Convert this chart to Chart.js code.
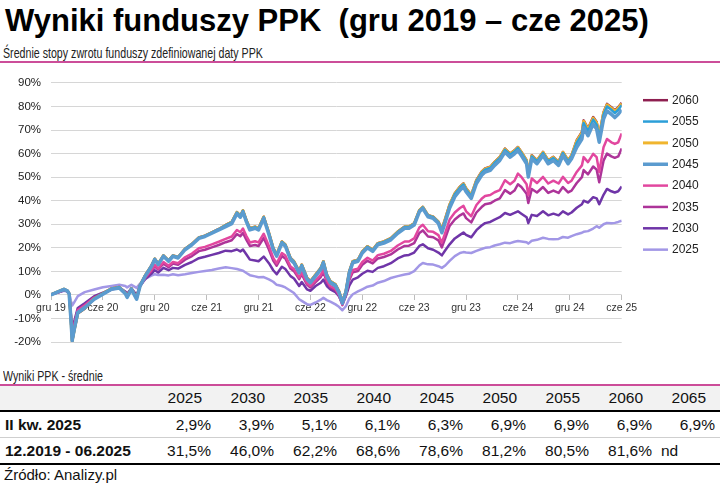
<!DOCTYPE html>
<html lang="pl">
<head>
<meta charset="utf-8">
<title>Wyniki funduszy PPK</title>
<script src="https://cdn.jsdelivr.net/npm/chart.js@4.4.1/dist/chart.umd.min.js"></script>
<style>
  body { margin: 0; width: 720px; height: 485px; background: #fff; position: relative; overflow: hidden;
         font-family: "Liberation Sans", Arial, sans-serif; color: #111; }
  .abs { position: absolute; white-space: pre; }
  #title { left: 5px; top: 5px; font-size: 31px; line-height: 31px; font-weight: bold; color: #000; }
  .narrow { font-size: 15px; line-height: 15px; transform: scaleX(0.71); transform-origin: 0 0; color: #222; }
  .rule { position: absolute; left: 0; width: 720px; }
  #chartBox { position: absolute; left: 0; top: 66px; width: 720px; height: 293px; }
  .cell { position: absolute; width: 70px; text-align: right; font-size: 15.5px; white-space: pre; }
  .rowLabel { position: absolute; left: 5px; font-size: 15.5px; font-weight: bold; white-space: pre; }
</style>
</head>
<body>

<div id="title" class="abs">Wyniki funduszy PPK  (gru 2019 – cze 2025)</div>
<div class="abs narrow" style="left:3px; top:44.5px;">Średnie stopy zwrotu funduszy zdefiniowanej daty PPK</div>
<div class="rule" style="top:61px; height:2px; background:#cc4d99;"></div>

<div id="chartBox"><canvas id="chart_ppk" width="720" height="293"></canvas></div>

<div class="abs narrow" style="left:3px; top:368px;">Wyniki PPK - średnie</div>
<div class="rule" style="top:384px; height:2px; background:#cc4d99;"></div>
<div class="rule" style="top:386px; height:24px; background:#f2f2f2;"></div>
<div class="rule" style="top:410px; height:1.5px; background:#000;"></div>
<div class="rule" style="top:437px; height:1px; background:#cfcfcf;"></div>
<div class="rule" style="top:463px; height:1.5px; background:#000;"></div>
<div id="table"></div>
<div class="abs" style="left:4px; top:467px; font-size:15px; line-height:16px; color:#111;">Źródło: Analizy.pl</div>

<script>
/* ------------------
  data
-------------------*/
// x positions in months since gru 2019
var months = [0, 0.8, 1.5, 1.9, 2.1, 2.3, 2.45, 2.7, 3.1, 3.9,
  5.0, 6.0, 7.0, 7.9, 8.6, 8.8, 9.3, 9.9, 10.3, 10.9,
  11.6, 12.0, 12.4, 13.0, 13.6, 14.1, 14.7, 15.5, 16.3, 17.1,
  17.8, 18.6, 19.4, 20.2, 20.9, 21.5, 21.9, 22.2, 22.6, 23.0,
  23.6, 24.0, 24.6, 25.2, 25.7, 26.1, 26.7, 27.1, 27.7, 28.1,
  28.7, 29.0, 29.6, 30.0, 30.6, 31.2, 31.5, 31.9, 32.3, 32.9,
  33.3, 33.7, 34.1, 34.5, 34.9, 35.5, 36.0, 36.6, 37.2, 37.8,
  38.5, 39.3, 40.1, 40.9, 41.4, 42.0, 42.6, 43.0, 43.6, 44.2,
  44.8, 45.2, 45.6, 46.1, 46.7, 47.3, 47.7, 48.0, 48.6, 49.2,
  49.8, 50.2, 50.8, 51.3, 51.9, 52.5, 53.1, 53.6, 54.0, 54.4,
  55.0, 55.2, 55.6, 56.2, 56.9, 57.5, 58.1, 58.7, 59.2, 59.8,
  60.2, 60.8, 61.4, 61.6, 62.1, 62.7, 63.1, 63.4, 63.9, 64.3,
  64.8, 65.2, 65.6, 66.0];

var tickMonths = [0, 6, 12, 18, 24, 30, 36, 42, 48, 54, 60, 66];
var tickLabels = ['gru 19', 'cze 20', 'gru 20', 'cze 21', 'gru 21', 'cze 22',
  'gru 22', 'cze 23', 'gru 23', 'cze 24', 'gru 24', 'cze 25'];

var fund2060 = [0.1, 1.4, 2.5, 1.8, 0.6, -10.5, -19.8, -14.9, -7.9, -5.8,
  -1.4, 0.7, 2.8, 3.4, 0.9, -0.6, 2.8, -1.4, 4.2, 8.4,
  12.4, 15.4, 13.3, 16.8, 14.7, 16.8, 16.1, 19.6, 21.7, 24.4,
  25.2, 26.6, 28.0, 29.7, 31.0, 35.2, 33.7, 35.9, 31.7, 28.3,
  29.0, 28.3, 33.2, 26.4, 20.0, 17.2, 22.7, 21.4, 15.7, 14.3,
  10.1, 12.9, 7.4, 5.9, 8.7, 11.5, 14.3, 8.7, 5.9, 4.5,
  1.7, -2.8, 1.7, 10.1, 14.3, 15.0, 18.5, 20.7, 19.2, 22.0,
  22.7, 24.1, 26.9, 29.0, 29.0, 30.4, 36.0, 37.4, 33.9, 33.2,
  31.1, 27.9, 32.5, 38.4, 43.2, 46.0, 47.4, 45.3, 42.5, 48.8,
  52.3, 53.7, 54.4, 56.5, 58.6, 62.1, 60.0, 61.4, 62.8, 60.7,
  57.2, 51.6, 59.3, 57.2, 60.7, 57.2, 58.6, 56.5, 60.7, 57.2,
  59.3, 65.7, 69.2, 74.1, 70.6, 75.5, 73.4, 67.8, 77.6, 81.1,
  79.7, 78.3, 79.7, 81.6];

var fund2055 = [0.1, 1.4, 2.5, 1.8, 0.6, -10.4, -19.7, -14.8, -7.8, -5.7,
  -1.5, 0.6, 2.7, 3.3, 0.8, -0.7, 2.7, -1.5, 4.1, 8.3,
  12.3, 15.3, 13.2, 16.7, 14.6, 16.7, 16.0, 19.5, 21.6, 24.3,
  25.1, 26.5, 27.9, 29.5, 30.8, 35.0, 33.5, 35.7, 31.5, 28.1,
  28.8, 28.1, 33.0, 26.2, 19.8, 17.0, 22.5, 21.2, 15.5, 14.1,
  9.9, 12.7, 7.2, 5.7, 8.5, 11.3, 14.1, 8.5, 5.7, 4.3,
  1.5, -3.0, 1.5, 9.9, 14.1, 14.8, 18.3, 20.5, 19.0, 21.8,
  22.5, 23.9, 26.7, 28.8, 28.8, 30.2, 35.8, 37.2, 33.7, 33.0,
  30.9, 27.4, 32.0, 37.9, 42.7, 45.5, 46.9, 44.8, 42.0, 48.3,
  51.8, 53.2, 53.9, 56.0, 58.1, 61.6, 59.5, 60.9, 62.3, 60.2,
  56.7, 51.1, 58.8, 56.7, 60.2, 56.7, 58.1, 56.0, 60.2, 56.7,
  58.8, 64.6, 68.1, 73.0, 69.5, 74.4, 72.3, 66.7, 76.5, 80.0,
  78.6, 77.2, 78.6, 80.5];

var fund2050 = [0.1, 1.4, 2.5, 1.8, 0.6, -10.3, -19.6, -14.7, -7.7, -5.6,
  -1.5, 0.6, 2.7, 3.3, 0.8, -0.7, 2.7, -1.5, 4.1, 8.3,
  12.3, 15.3, 13.2, 16.7, 14.6, 16.7, 16.0, 19.5, 21.6, 24.3,
  25.1, 26.5, 27.9, 29.6, 30.9, 35.1, 33.6, 35.8, 31.6, 28.2,
  28.9, 28.2, 33.1, 26.3, 19.9, 17.1, 22.6, 21.3, 15.6, 14.2,
  10.0, 12.8, 7.3, 5.8, 8.6, 11.4, 14.2, 8.6, 5.8, 4.4,
  1.6, -2.9, 1.6, 10.0, 14.2, 14.9, 18.4, 20.6, 19.1, 21.9,
  22.6, 24.0, 26.8, 28.9, 28.9, 30.3, 35.9, 37.3, 33.8, 33.1,
  31.0, 27.7, 32.3, 38.2, 43.0, 45.8, 47.2, 45.1, 42.3, 48.6,
  52.1, 53.5, 54.2, 56.3, 58.4, 61.9, 59.8, 61.2, 62.6, 60.5,
  57.0, 51.4, 59.1, 57.0, 60.5, 57.0, 58.4, 56.3, 60.5, 57.0,
  59.1, 65.3, 68.8, 73.7, 70.2, 75.1, 73.0, 67.4, 77.2, 80.7,
  79.3, 77.9, 79.3, 81.2];

var fund2045 = [0, 1.3, 2.4, 1.7, 0.5, -10.0, -19.3, -14.4, -7.4, -5.3,
  -1.8, 0.3, 2.4, 3.0, 0.5, -1.0, 2.4, -1.8, 3.8, 8.0,
  12.0, 15.0, 12.9, 16.4, 14.3, 16.4, 15.7, 19.2, 21.3, 24.0,
  24.8, 26.2, 27.6, 29.0, 30.3, 34.5, 33.0, 35.2, 31.0, 27.6,
  28.3, 27.6, 32.5, 25.7, 19.3, 16.5, 22.0, 20.7, 15.0, 13.6,
  9.4, 12.2, 6.7, 5.2, 8.0, 10.8, 13.6, 8.0, 5.2, 3.8,
  1.0, -3.5, 1.0, 9.4, 13.6, 14.3, 17.8, 20.0, 18.5, 21.3,
  22.0, 23.4, 26.2, 28.3, 28.3, 29.7, 35.3, 36.7, 33.2, 32.5,
  30.4, 26.4, 31.0, 36.9, 41.7, 44.5, 45.9, 43.8, 41.0, 47.3,
  50.8, 52.2, 52.9, 55.0, 57.1, 60.6, 58.5, 59.9, 61.3, 59.2,
  55.7, 50.1, 57.8, 55.7, 59.2, 55.7, 57.1, 55.0, 59.2, 55.7,
  57.8, 62.7, 66.2, 71.1, 67.6, 72.5, 70.4, 64.8, 74.6, 78.1,
  76.7, 75.3, 76.7, 78.6];

var fund2040 = [0.2, 1.1, 2.2, 1.6, 0.5, -9.0, -17.0, -12.5, -6.5, -4.5,
  -1.2, 0.5, 2.4, 3.0, 0.8, -0.5, 2.5, -1.2, 3.8, 7.5,
  10.5, 12.8, 11.2, 14.0, 12.4, 14.0, 13.5, 16.0, 17.6, 19.8,
  20.4, 21.5, 22.6, 23.8, 24.8, 27.6, 26.6, 28.2, 25.0, 22.3,
  22.8, 22.3, 26.0, 20.8, 15.7, 13.4, 17.8, 16.7, 12.1, 11.0,
  7.4, 9.6, 5.0, 3.8, 6.2, 8.5, 10.8, 6.2, 3.8, 2.6,
  0.2, -4.0, 0.2, 7.2, 10.6, 11.2, 14.0, 15.8, 14.6, 16.9,
  17.5, 18.7, 21.0, 22.7, 22.7, 24.0, 28.6, 29.8, 27.0, 26.8,
  25.4, 22.2, 26.5, 32.0, 35.0, 36.9, 37.8, 35.5, 33.4, 38.2,
  40.8, 42.0, 42.4, 43.6, 44.5, 48.7, 47.0, 48.5, 51.5, 50.1,
  47.0, 42.4, 49.4, 47.5, 50.1, 47.3, 48.5, 47.3, 50.1, 47.5,
  48.5, 52.2, 55.0, 58.5, 56.4, 59.9, 58.5, 52.2, 62.7, 66.2,
  64.8, 64.1, 64.8, 68.6];

var fund2035 = [0.2, 1.1, 2.1, 1.5, 0.5, -8.5, -16.2, -12.0, -6.2, -4.2,
  -1.0, 0.6, 2.4, 3.0, 1.0, -0.3, 2.5, -1.0, 3.8, 7.2,
  10.0, 12.2, 10.8, 13.3, 11.8, 13.3, 12.8, 15.0, 16.5, 18.6,
  19.2, 20.2, 21.2, 22.4, 23.2, 25.8, 24.9, 26.3, 23.4, 20.8,
  21.2, 20.8, 24.2, 19.3, 14.6, 12.4, 16.5, 15.5, 11.2, 10.1,
  6.7, 8.8, 4.4, 3.2, 5.5, 7.6, 9.8, 5.5, 3.2, 2.0,
  -0.3, -4.3, -0.3, 6.4, 9.6, 10.2, 12.8, 14.5, 13.4, 15.5,
  16.1, 17.2, 19.3, 20.8, 20.9, 22.0, 26.3, 27.4, 24.8, 24.5,
  23.2, 20.2, 24.2, 29.3, 32.0, 33.8, 34.6, 32.6, 30.8, 35.0,
  37.3, 38.5, 38.9, 40.0, 41.0, 44.5, 43.0, 44.3, 47.0, 45.8,
  43.0, 39.0, 45.0, 43.5, 45.8, 43.3, 44.3, 43.3, 45.8, 43.5,
  44.3, 47.5, 50.0, 53.0, 51.2, 54.5, 53.2, 47.8, 57.0, 60.0,
  58.8, 58.2, 58.8, 62.2];

var fund2030 = [0.3, 1.0, 2.0, 1.5, 0.5, -8.0, -15.5, -11.0, -5.5, -3.5,
  -0.5, 1.0, 2.5, 3.2, 1.5, 0.5, 2.8, 0.0, 3.8, 6.8,
  9.0, 10.5, 9.5, 11.5, 10.5, 11.5, 11.2, 12.8, 14.0, 15.6,
  16.2, 17.0, 17.8, 18.8, 18.6, 19.3, 18.5, 19.3, 17.2, 15.0,
  14.6, 14.3, 16.3, 13.5, 10.5, 8.8, 12.0, 11.0, 8.0, 7.0,
  3.8, 5.5, 2.4, 1.8, 3.8, 5.2, 6.5, 3.8, 2.4, 1.2,
  -0.5, -3.5, -0.5, 4.0, 6.5, 7.5, 9.0, 10.3, 9.8, 11.5,
  12.2, 13.5, 15.5, 16.8, 17.0, 18.0, 20.8, 21.5, 19.8, 19.2,
  18.0, 16.8, 19.0, 21.5, 24.0, 25.5, 26.5, 25.5, 24.5, 27.5,
  29.5, 30.5, 31.0, 32.0, 33.0, 34.8, 34.0, 34.8, 35.5, 34.5,
  33.0, 30.5, 34.0, 33.5, 35.5, 33.8, 34.5, 33.8, 35.5, 34.2,
  35.0, 37.0, 38.5, 40.0, 39.2, 41.5, 41.0, 38.5, 42.5, 45.0,
  44.0, 43.5, 44.0, 46.0];

var fund2025 = [0.3, 1.0, 1.8, 1.5, 0.8, -2.5, -4.5, -3.0, -0.5, 1.2,
  2.3, 3.3, 3.8, 4.3, 3.8, 3.2, 4.3, 3.0, 4.8, 6.8,
  8.2, 8.8, 8.5, 8.6, 8.3, 8.8, 8.4, 8.8, 9.3, 9.8,
  10.2, 10.6, 11.2, 11.8, 11.4, 11.0, 10.6, 10.3, 9.3, 8.4,
  7.9, 7.5, 7.6, 6.6, 5.6, 4.3, 3.8, 3.2, 1.8, 0.8,
  -1.8, -2.5, -3.9, -4.2, -3.2, -2.0, -1.2, -2.2, -2.8, -4.0,
  -5.0, -6.5, -4.8, -1.5, 0.3, 1.5, 2.4, 3.5, 4.0, 5.2,
  5.9, 7.2, 8.0, 8.7, 9.0, 10.1, 12.5, 13.6, 13.0, 12.9,
  12.2, 11.5, 12.5, 14.5, 16.5, 17.8, 18.2, 18.0, 17.8, 18.7,
  19.5, 20.0, 20.3, 21.0, 21.5, 22.2, 22.0, 22.6, 22.9, 22.7,
  22.4, 21.8, 23.0, 23.4, 24.3, 23.8, 23.6, 23.8, 24.6, 24.3,
  25.0, 25.8, 26.4, 26.8, 27.1, 28.2, 29.2, 28.5, 30.0, 30.6,
  30.4, 30.6, 31.0, 31.5];

// table under the chart
var tableFunds = ['2025', '2030', '2035', '2040', '2045', '2050', '2055', '2060', '2065'];
var q2Returns = [2.9, 3.9, 5.1, 6.1, 6.3, 6.9, 6.9, 6.9, 6.9];
var totalReturns = [31.5, 46.0, 62.2, 68.6, 78.6, 81.2, 80.5, 81.6, null];

/* ------------------
  helpers
-------------------*/
function toPoints(values) {
    return months.map(function (m, i) { return {x: m, y: values[i]}; });
}

function pct(v) {
    return v === null ? 'nd' : v.toFixed(1).replace('.', ',') + '%';
}

// legend drawn to the right of the plot area
var sideLegend = {
    id: 'sideLegend',
    afterDraw: function (chart) {
        var ctx = chart.ctx, area = chart.chartArea;
        ctx.save();
        ctx.font = '12px "Liberation Sans", Arial, sans-serif';
        ctx.textBaseline = 'middle';
        ctx.fillStyle = '#222';
        chart.data.datasets.forEach(function (ds, i) {
            var x = area.right + 21.3;
            var y = area.top + 17.3 + i * 21.35;
            ctx.strokeStyle = ds.borderColor;
            ctx.lineWidth = ds.borderWidth;
            ctx.beginPath();
            ctx.moveTo(x, y);
            ctx.lineTo(x + 25, y);
            ctx.stroke();
            ctx.fillText(ds.label, x + 29, y + 0.5);
        });
        ctx.restore();
    }
};

/* ------------------
  line chart
-------------------*/
var chart_ppk = new Chart(document.getElementById('chart_ppk'), {
    type: 'line',
    data: {
      datasets: [
        { label: '2060', data: toPoints(fund2060), borderColor: '#8e1f50', borderWidth: 2.5, order: 4 },
        { label: '2055', data: toPoints(fund2055), borderColor: '#2c9fd8', borderWidth: 2.5, order: 2 },
        { label: '2050', data: toPoints(fund2050), borderColor: '#f0b52e', borderWidth: 3, order: 3 },
        { label: '2045', data: toPoints(fund2045), borderColor: '#5b9bcf', borderWidth: 3.5, order: 1 },
        { label: '2040', data: toPoints(fund2040), borderColor: '#e2479f', borderWidth: 2.5, order: 5 },
        { label: '2035', data: toPoints(fund2035), borderColor: '#ad3499', borderWidth: 2.5, order: 6 },
        { label: '2030', data: toPoints(fund2030), borderColor: '#6f35a8', borderWidth: 2.5, order: 7 },
        { label: '2025', data: toPoints(fund2025), borderColor: '#a297e6', borderWidth: 2.5, order: 8 }
      ]
    },
    options: {
      responsive: false,
      animation: false,
      parsing: false,
      elements: { point: { radius: 0 }, line: { tension: 0, borderJoinStyle: 'round' } },
      layout: { padding: { top: 15, bottom: 15, left: 0, right: 98.3 } },
      plugins: { legend: { display: false }, tooltip: { enabled: false } },
      scales: {
        x: {
          type: 'linear',
          position: { y: 0 },
          min: 0,
          max: 66,
          afterBuildTicks: function (scale) {
              scale.ticks = tickMonths.map(function (m) { return {value: m}; });
          },
          ticks: {
            autoSkip: false,
            maxRotation: 0,
            padding: 2,
            color: '#333',
            font: { size: 10.5, family: '"Liberation Sans", Arial, sans-serif' },
            callback: function (value, index) { return tickLabels[index]; }
          },
          grid: { drawOnChartArea: false, drawTicks: true, tickLength: 5, color: '#bdbdbd' },
          border: { display: false }
        },
        y: {
          min: -20,
          max: 90,
          afterFit: function (scale) { scale.width = 51; },
          ticks: {
            stepSize: 10,
            padding: 10,
            color: '#222',
            font: { size: 11.5, family: '"Liberation Sans", Arial, sans-serif' },
            callback: function (value) { return value + '%'; }
          },
          grid: { color: '#d6d6d6', drawTicks: false },
          border: { display: false }
        }
      }
    },
    plugins: [sideLegend]
});

/* ------------------
  table
-------------------*/
function addCell(text, right, top, height, cls, extra) {
    var d = document.createElement('div');
    d.className = cls;
    d.textContent = text;
    d.style.top = top + 'px';
    d.style.height = height + 'px';
    d.style.lineHeight = height + 'px';
    if (cls === 'cell') d.style.left = (right - 70) + 'px';
    if (extra) d.style.cssText += extra;
    document.getElementById('table').appendChild(d);
}

tableFunds.forEach(function (f, i) {
    var right = 211 + i * 63;
    addCell(f, right - 9, 386, 24, 'cell');
    addCell(pct(q2Returns[i]), right, 411.5, 25.5, 'cell');
    if (totalReturns[i] === null) {
        addCell('nd', right, 437.5, 25.5, 'cell', 'text-align:left; left:' + (right - 54) + 'px;');
    } else {
        addCell(pct(totalReturns[i]), right, 437.5, 25.5, 'cell');
    }
});
addCell('II kw. 2025', 0, 411.5, 25.5, 'rowLabel');
addCell('12.2019 - 06.2025', 0, 437.5, 25.5, 'rowLabel');
</script>
</body>
</html>
